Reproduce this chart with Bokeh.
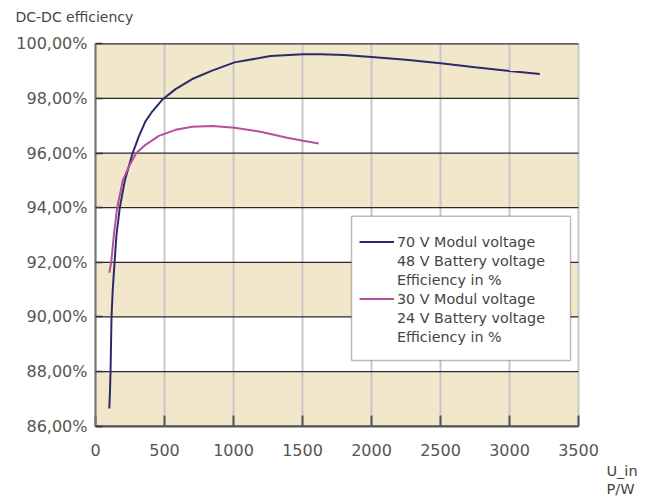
from bokeh.plotting import figure
from bokeh.models import (Legend, LegendItem, FixedTicker, BoxAnnotation, Label, Range1d, LinearAxis)
from bokeh.embed import file_html
from bokeh.resources import INLINE

# ---- data ----
blue_x = [100, 105, 109, 116, 125, 138, 152, 176, 213, 266, 314, 362, 411, 483, 580, 701, 845, 1007, 1268,
          1505, 1630, 1800, 2000, 2250, 2500, 2750, 3000, 3220]
blue_y = [86.65, 87.3, 88.0, 90.0, 91.0, 92.0, 93.0, 94.0, 95.0, 95.95, 96.61, 97.16, 97.52, 97.95, 98.34, 98.71,
          99.02, 99.32, 99.55, 99.62, 99.62, 99.59, 99.52, 99.42, 99.29, 99.14, 99.0, 98.89]

pink_x = [100, 114, 133, 157, 198, 241, 296, 362, 459, 580, 701, 845, 1007, 1196, 1389, 1505, 1618]
pink_y = [91.62, 92.0, 93.0, 94.0, 95.0, 95.5, 96.0, 96.30, 96.63, 96.85, 96.96, 96.99, 96.93, 96.78, 96.56,
          96.45, 96.35]

x_ticks = [0, 500, 1000, 1500, 2000, 2500, 3000, 3500]
y_ticks = [86, 88, 90, 92, 94, 96, 98, 100]
y_tick_labels = ["86,00%", "88,00%", "90,00%", "92,00%", "94,00%", "96,00%", "98,00%", "100,00%"]

band_bottoms = [86, 90, 94, 98]
band_tops = [88, 92, 96, 100]

blue_labels = ["70 V Modul voltage", "48 V Battery voltage", "Efficiency in %"]
pink_labels = ["30 V Modul voltage", "24 V Battery voltage", "Efficiency in %"]

title_text = "DC-DC efficiency"
x_unit_lines = ["U_in", "P/W"]

# ---- layout: the frame spans the whole canvas; the plot box sits inside it ----
W, H = 656, 496
PX_LEFT, PX_RIGHT, PX_TOP, PX_BOTTOM = 95.0, 578.0, 43.3, 425.7
X0, X1, Y0, Y1 = 0.0, 3500.0, 86.0, 100.0
kx = (X1 - X0) / (PX_RIGHT - PX_LEFT)
ky = (Y1 - Y0) / (PX_BOTTOM - PX_TOP)


def dx(px):
    return X0 + (px - PX_LEFT) * kx


def dy(py):
    return Y0 + (PX_BOTTOM - py) * ky


FONT = "DejaVu Sans"
BLUE = "#2d2a6b"
PINK = "#b5509e"
BEIGE = "#f2e6cb"
TXT = "#555555"

p = figure(width=W, height=H,
           x_range=Range1d(dx(0), dx(W)), y_range=Range1d(dy(H), dy(0)),
           x_axis_location=None, y_axis_location=None,
           output_backend="svg", toolbar_location=None,
           min_border_left=0, min_border_right=0,
           min_border_top=0, min_border_bottom=0)
p.outline_line_color = None
p.background_fill_color = "white"
p.border_fill_color = "white"
p.grid.visible = False

# alternating bands
p.quad(left=X0, right=X1, bottom=band_bottoms, top=band_tops,
       fill_color=BEIGE, line_color=None, level="image")

# grid lines (drawn from the tick lists, limited to the plot box)
p.segment(x0=x_ticks, y0=Y0, x1=x_ticks, y1=Y1,
          line_color="#c8c8c8", line_width=2, level="underlay")
p.segment(x0=X0, y0=y_ticks, x1=X1, y1=y_ticks,
          line_color="#2a2a2a", line_width=1.3, level="underlay")

# axes fixed on the plot box edges
xaxis = LinearAxis(ticker=FixedTicker(ticks=x_ticks), fixed_location=Y0, bounds=(X0, X1))
yaxis = LinearAxis(ticker=FixedTicker(ticks=y_ticks), fixed_location=X0, bounds=(Y0, Y1))
yaxis.major_label_overrides = {t: s for t, s in zip(y_ticks, y_tick_labels)}
for ax in (xaxis, yaxis):
    ax.major_label_text_font = FONT
    ax.major_label_text_font_size = "16px"
    ax.major_label_text_color = TXT
    ax.minor_tick_line_color = None
    ax.major_tick_out = 0
xaxis.axis_line_color = "#555555"
xaxis.axis_line_width = 2
xaxis.major_tick_in = 11
xaxis.major_tick_line_color = "#555555"
xaxis.major_tick_line_width = 2
xaxis.major_label_standoff = 18
yaxis.axis_line_color = "#777777"
yaxis.axis_line_width = 2
yaxis.major_tick_in = 7
yaxis.major_tick_line_color = "#333333"
yaxis.major_tick_line_width = 1.5
yaxis.major_label_standoff = 8
p.add_layout(xaxis, "below")
p.add_layout(yaxis, "left")

# curves
r_blue = p.line(blue_x, blue_y, line_color=BLUE, line_width=2)
r_pink = p.line(pink_x, pink_y, line_color=PINK, line_width=2)
r_none = p.line(x=[], y=[], line_alpha=0)

# legend frame
box = BoxAnnotation(left=dx(351), right=dx(570), bottom=dy(360), top=dy(215.7),
                    fill_color="white", fill_alpha=1.0,
                    line_color="#222222", line_width=1.5)
p.add_layout(box)

items = [LegendItem(label=blue_labels[0], renderers=[r_blue]),
         LegendItem(label=blue_labels[1], renderers=[r_none]),
         LegendItem(label=blue_labels[2], renderers=[r_none]),
         LegendItem(label=pink_labels[0], renderers=[r_pink]),
         LegendItem(label=pink_labels[1], renderers=[r_none]),
         LegendItem(label=pink_labels[2], renderers=[r_none])]
legend = Legend(items=items, location=(359, 150),
                padding=0, margin=0, spacing=0,
                glyph_width=35, glyph_height=19, label_height=19,
                label_standoff=3,
                label_text_font=FONT, label_text_font_size="14.3px",
                label_text_color="#444444",
                border_line_alpha=0, background_fill_alpha=0)
p.add_layout(legend)

# free texts (top of text box placed just above the cap line)
p.add_layout(Label(x=dx(15), y=dy(8), text=title_text, text_font=FONT,
                   text_font_size="14px", text_color="#444444",
                   text_baseline="top", text_align="left"))
p.add_layout(Label(x=dx(606), y=dy(462), text=x_unit_lines[0], text_font=FONT,
                   text_font_size="14.5px", text_color="#444444",
                   text_baseline="top", text_align="left"))
p.add_layout(Label(x=dx(606), y=dy(480), text=x_unit_lines[1], text_font=FONT,
                   text_font_size="14.5px", text_color="#444444",
                   text_baseline="top", text_align="left"))

open("out.html", "w").write(file_html(p, INLINE))
